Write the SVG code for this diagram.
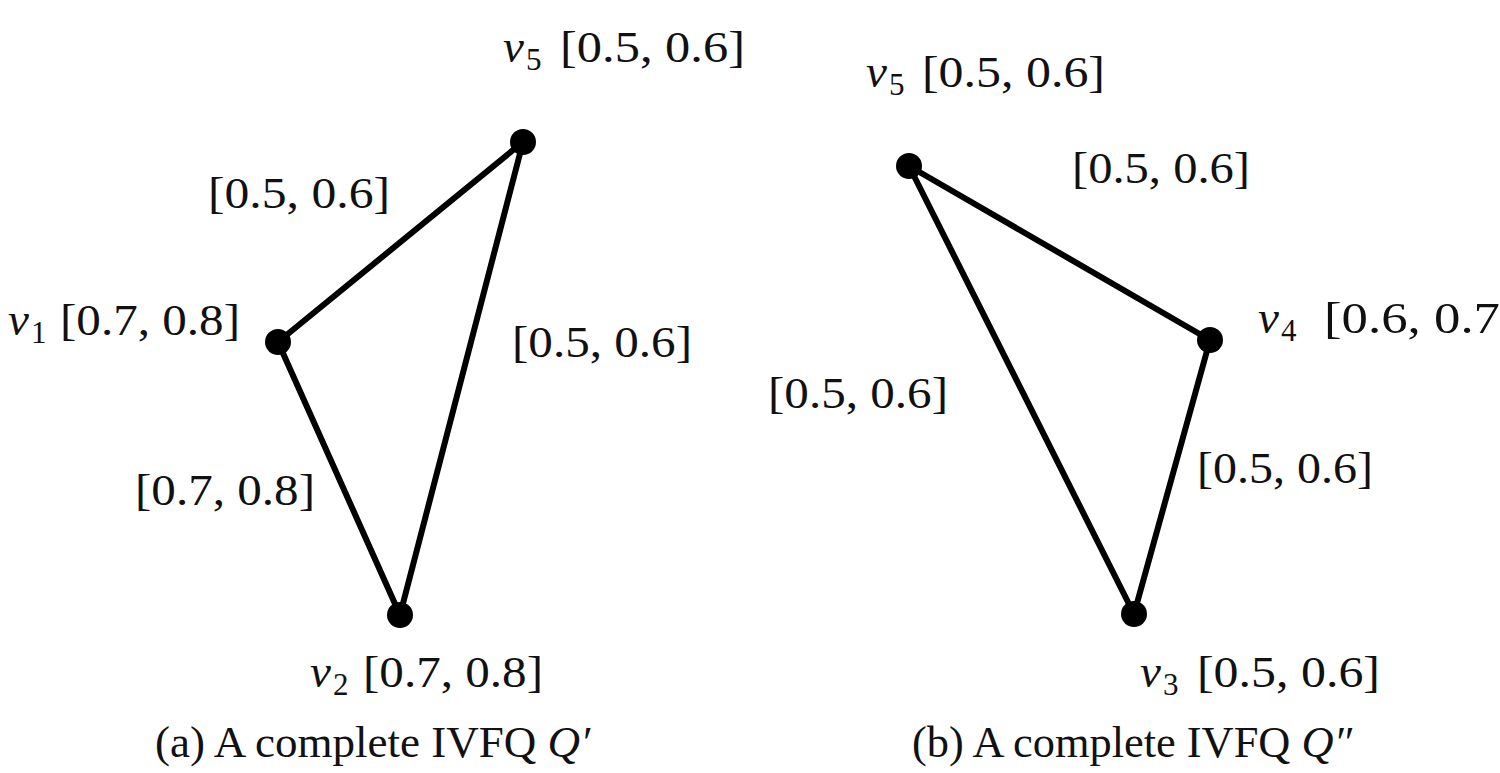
<svg xmlns="http://www.w3.org/2000/svg" width="1500" height="773" viewBox="0 0 1500 773">
<style>
text{font-family:"Liberation Serif","DejaVu Serif",serif;fill:#111;font-size:45px}
.v{font-style:italic;font-size:47px}
.s{font-size:31px}
.cap{font-size:44px}
.q{font-style:italic}
.e{stroke:#000;stroke-width:6;fill:none;stroke-linecap:round}
.n{fill:#000}
</style>
<rect width="1500" height="773" fill="#fff"/>
<g id="connectors">
<line class="e" x1="278" y1="342" x2="523" y2="142"/>
<line class="e" x1="523" y1="142" x2="400" y2="615"/>
<line class="e" x1="278" y1="342" x2="400" y2="615"/>
<line class="e" x1="909" y1="166" x2="1210" y2="340"/>
<line class="e" x1="909" y1="166" x2="1134" y2="614"/>
<line class="e" x1="1210" y1="340" x2="1134" y2="614"/>
</g>
<g id="edge-labels">
<text x="208" y="208" textLength="182" lengthAdjust="spacingAndGlyphs">[0.5, 0.6]</text>
<text x="512" y="357" textLength="180" lengthAdjust="spacingAndGlyphs">[0.5, 0.6]</text>
<text x="135" y="505" textLength="180" lengthAdjust="spacingAndGlyphs">[0.7, 0.8]</text>
<text x="1072" y="183" textLength="178" lengthAdjust="spacingAndGlyphs">[0.5, 0.6]</text>
<text x="768" y="408" textLength="180" lengthAdjust="spacingAndGlyphs">[0.5, 0.6]</text>
<text x="1197" y="483" textLength="176" lengthAdjust="spacingAndGlyphs">[0.5, 0.6]</text>
</g>
<g id="a-v5">
<circle class="n" cx="523" cy="142" r="13"/>
<text class="v" x="503" y="62">v</text><text class="s" x="526" y="70">5</text>
<text x="560" y="62" textLength="185" lengthAdjust="spacingAndGlyphs">[0.5, 0.6]</text>
</g>
<g id="a-v1">
<circle class="n" cx="278" cy="342" r="13"/>
<text class="v" x="8" y="335">v</text><text class="s" x="31" y="343">1</text>
<text x="60" y="335" textLength="180" lengthAdjust="spacingAndGlyphs">[0.7, 0.8]</text>
</g>
<g id="a-v2">
<circle class="n" cx="400" cy="615" r="13"/>
<text class="v" x="310" y="687">v</text><text class="s" x="333" y="695">2</text>
<text x="363" y="687" textLength="180" lengthAdjust="spacingAndGlyphs">[0.7, 0.8]</text>
</g>
<g id="b-v5">
<circle class="n" cx="909" cy="166" r="13"/>
<text class="v" x="866" y="87">v</text><text class="s" x="889" y="95">5</text>
<text x="922" y="87" textLength="183" lengthAdjust="spacingAndGlyphs">[0.5, 0.6]</text>
</g>
<g id="b-v4">
<circle class="n" cx="1210" cy="340" r="13"/>
<text class="v" x="1258" y="333">v</text><text class="s" x="1281" y="341">4</text>
<text x="1324" y="333" textLength="176" lengthAdjust="spacingAndGlyphs">[0.6, 0.7</text>
</g>
<g id="b-v3">
<circle class="n" cx="1134" cy="614" r="13"/>
<text class="v" x="1140" y="687">v</text><text class="s" x="1163" y="695">3</text>
<text x="1197" y="687" textLength="183" lengthAdjust="spacingAndGlyphs">[0.5, 0.6]</text>
</g>
<g id="captions">
<text class="cap" x="155" y="757" textLength="435" lengthAdjust="spacingAndGlyphs">(a) A complete IVFQ <tspan class="q">Q′</tspan></text>
<text class="cap" x="912" y="757" textLength="440" lengthAdjust="spacingAndGlyphs">(b) A complete IVFQ <tspan class="q">Q″</tspan></text>
</g>
</svg>
